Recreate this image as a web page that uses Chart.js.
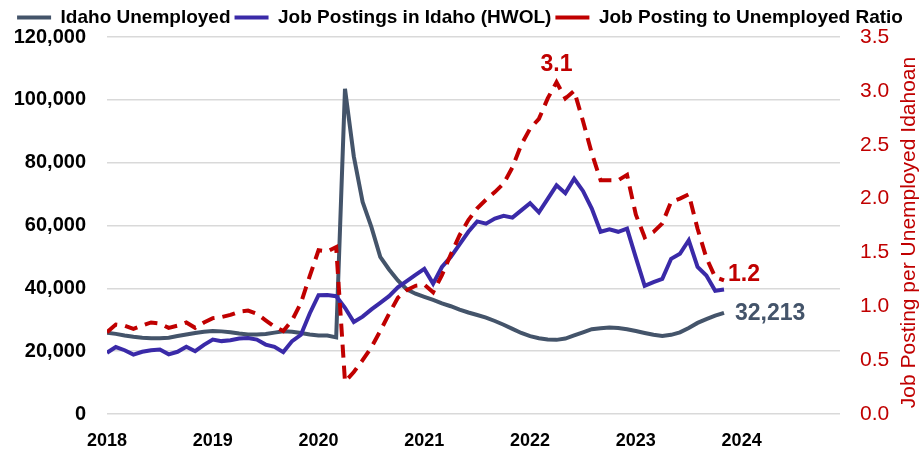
<!DOCTYPE html>
<html>
<head>
<meta charset="utf-8">
<script src="https://cdn.jsdelivr.net/npm/chart.js@4.4.1/dist/chart.umd.min.js"></script>
<style>
  html, body { margin: 0; padding: 0; background: #fff; }
  #wrap { width: 920px; height: 449px; position: relative; }
</style>
</head>
<body>
<div id="wrap"><canvas id="idahoChart"></canvas></div>
<script>
// monthly observations, Jan 2018 - Nov 2023
const months = [
  '2018-01','2018-02','2018-03','2018-04','2018-05','2018-06','2018-07','2018-08','2018-09','2018-10','2018-11','2018-12',
  '2019-01','2019-02','2019-03','2019-04','2019-05','2019-06','2019-07','2019-08','2019-09','2019-10','2019-11','2019-12',
  '2020-01','2020-02','2020-03','2020-04','2020-05','2020-06','2020-07','2020-08','2020-09','2020-10','2020-11','2020-12',
  '2021-01','2021-02','2021-03','2021-04','2021-05','2021-06','2021-07','2021-08','2021-09','2021-10','2021-11','2021-12',
  '2022-01','2022-02','2022-03','2022-04','2022-05','2022-06','2022-07','2022-08','2022-09','2022-10','2022-11','2022-12',
  '2023-01','2023-02','2023-03','2023-04','2023-05','2023-06','2023-07','2023-08','2023-09','2023-10','2023-11'
];

const unemployed = [
  25900, 25500, 25000, 24600, 24300, 24100, 24100, 24300, 24800, 25300, 25800, 26200,
  26400, 26300, 26000, 25600, 25300, 25300, 25500, 25900, 26300, 26200, 25800, 25300,
  25000, 25000, 24400, 103500, 82000, 67500, 59500, 50000, 46000, 42500, 39700, 38300,
  37300, 36300, 35200, 34300, 33200, 32300, 31500, 30700, 29600, 28400, 27100, 25800,
  24800, 24100, 23700, 23600, 24000, 25000, 26000, 27000, 27300, 27500, 27400, 27000,
  26400, 25800, 25200, 24800, 25200, 26000, 27400, 29000, 30200, 31300, 32213
];

const postings = [
  19500, 21300, 20300, 18900, 19800, 20300, 20500, 19000, 19800, 21400, 20000, 22000,
  23700, 23200, 23500, 24000, 24200, 23700, 22100, 21400, 19700, 23200, 25200, 32000,
  37800, 37900, 37500, 33800, 29300, 31000, 33300, 35400, 37500, 40300, 42300, 44300,
  46200, 41500, 46800, 50000, 54000, 58000, 61300, 60600, 62200, 63100, 62500, 64800,
  67100, 64200, 68500, 72800, 70300, 74900, 71000, 65400, 58000, 58800, 58000, 59000,
  49800, 40800, 42000, 43000, 49400, 51000, 55300, 46800, 44100, 39200, 39600
];

const ratio = [
  0.76, 0.83, 0.82, 0.79, 0.82, 0.85, 0.84, 0.80, 0.82, 0.85, 0.80, 0.85,
  0.89, 0.90, 0.92, 0.95, 0.96, 0.93, 0.87, 0.81, 0.77, 0.87, 1.03, 1.28,
  1.52, 1.51, 1.55, 0.30, 0.39, 0.50, 0.62, 0.77, 0.93, 1.08, 1.15, 1.19,
  1.20, 1.13, 1.29, 1.48, 1.66, 1.80, 1.91, 1.99, 2.06, 2.14, 2.29, 2.50,
  2.65, 2.74, 2.93, 3.08, 2.93, 3.00, 2.72, 2.42, 2.17, 2.17, 2.17, 2.22,
  1.85, 1.64, 1.69, 1.77, 1.97, 2.00, 2.04, 1.72, 1.45, 1.27, 1.24
];

const yearTicks = [2018, 2019, 2020, 2021, 2022, 2023, 2024];

const GRAY = '#44546A';
const BLUE = '#3A2AA8';
const RED = '#C00000';

// turn 'YYYY-MM' into a decimal year for the linear x axis
const xOf = m => {
  const [y, mo] = m.split('-').map(Number);
  return y + (mo - 1) / 12;
};
const toPoints = vals => vals.map((v, i) => ({ x: xOf(months[i]), y: v }));

const valueLabels = {
  id: 'valueLabels',
  afterDatasetsDraw(chart) {
    const ctx = chart.ctx;
    ctx.save();
    ctx.font = 'bold 23px "Liberation Sans", Arial';
    ctx.textBaseline = 'middle';

    // peak of the ratio
    const redPts = chart.getDatasetMeta(2).data;
    const peak = ratio.indexOf(Math.max(...ratio));
    ctx.fillStyle = RED;
    ctx.textAlign = 'center';
    ctx.fillText(ratio[peak].toFixed(1), redPts[peak].x, redPts[peak].y - 18);

    // last ratio
    const last = ratio.length - 1;
    ctx.textAlign = 'left';
    ctx.fillText(ratio[last].toFixed(1), redPts[last].x + 4, redPts[last].y - 6);

    // last unemployed count
    const grayPts = chart.getDatasetMeta(0).data;
    const lu = unemployed.length - 1;
    ctx.fillStyle = GRAY;
    ctx.fillText(unemployed[lu].toLocaleString('en-US'), grayPts[lu].x + 11, grayPts[lu].y + 1);
    ctx.restore();
  },
  afterDraw(chart) {
    // right axis title, reading bottom to top
    const ctx = chart.ctx;
    const area = chart.chartArea;
    ctx.save();
    ctx.translate(909, (area.top + area.bottom) / 2 + 7);
    ctx.rotate(-Math.PI / 2);
    ctx.font = '21px "Liberation Sans", Arial';
    ctx.fillStyle = RED;
    ctx.textAlign = 'center';
    ctx.textBaseline = 'middle';
    ctx.fillText('Job Posting per Unemployed Idahoan', 0, 0);
    ctx.restore();
  }
};

const ctx = document.getElementById('idahoChart').getContext('2d');
const chart = new Chart(ctx, {
  type: 'line',
  data: {
    datasets: [
      {
        label: 'Idaho Unemployed',
        data: toPoints(unemployed),
        borderColor: GRAY,
        backgroundColor: GRAY,
        borderWidth: 4,
        pointRadius: 0,
        pointStyle: 'line',
        tension: 0,
        yAxisID: 'y',
        order: 3
      },
      {
        label: 'Job Postings in Idaho (HWOL)',
        data: toPoints(postings),
        borderColor: BLUE,
        backgroundColor: BLUE,
        borderWidth: 4,
        pointRadius: 0,
        pointStyle: 'line',
        tension: 0,
        yAxisID: 'y',
        order: 2
      },
      {
        label: 'Job Posting to Unemployed Ratio',
        data: toPoints(ratio),
        borderColor: RED,
        backgroundColor: RED,
        borderWidth: 4,
        borderDash: [13, 8],
        pointRadius: 0,
        pointStyle: 'line',
        tension: 0,
        yAxisID: 'y1',
        order: 1
      }
    ]
  },
  options: {
    responsive: true,
    maintainAspectRatio: false,
    animation: false,
    layout: { padding: { top: 4, left: 0, right: 0, bottom: 0 } },
    plugins: {
      legend: {
        display: true,
        position: 'top',
        labels: {
          usePointStyle: true,
          pointStyleWidth: 34,
          boxHeight: 4,
          padding: 4,
          color: '#000',
          font: { family: '"Liberation Sans", Arial', size: 19, weight: 'bold' },
          sort: (a, b) => a.datasetIndex - b.datasetIndex
        }
      },
      tooltip: { enabled: false }
    },
    scales: {
      x: {
        type: 'linear',
        min: 2018,
        max: 2024.93,
        grid: { display: false },
        border: { display: false },
        afterBuildTicks: s => { s.ticks = yearTicks.map(v => ({ value: v })); },
        afterFit: s => { s.height = 35; },
        ticks: {
          padding: 8,
          color: '#000',
          maxRotation: 0,
          autoSkip: false,
          font: { family: '"Liberation Sans", Arial', size: 18, weight: 'bold' },
          callback: v => String(v)
        }
      },
      y: {
        position: 'left',
        min: 0,
        max: 120000,
        border: { display: false },
        grid: { color: '#D9D9D9', lineWidth: 1.5, drawTicks: false },
        afterFit: s => { s.width = 107; },
        ticks: {
          stepSize: 20000,
          padding: 21,
          color: '#000',
          font: { family: '"Liberation Sans", Arial', size: 20, weight: 'bold' },
          callback: v => v.toLocaleString('en-US')
        }
      },
      y1: {
        position: 'right',
        min: 0,
        max: 3.5,
        border: { display: false },
        grid: { drawOnChartArea: false, drawTicks: false },
        afterFit: s => { s.width = 80; },
        ticks: {
          stepSize: 0.5,
          padding: 20,
          color: RED,
          font: { family: '"Liberation Sans", Arial', size: 21 },
          callback: v => v.toFixed(1)
        }
      }
    }
  },
  plugins: [valueLabels]
});
</script>
</body>
</html>
